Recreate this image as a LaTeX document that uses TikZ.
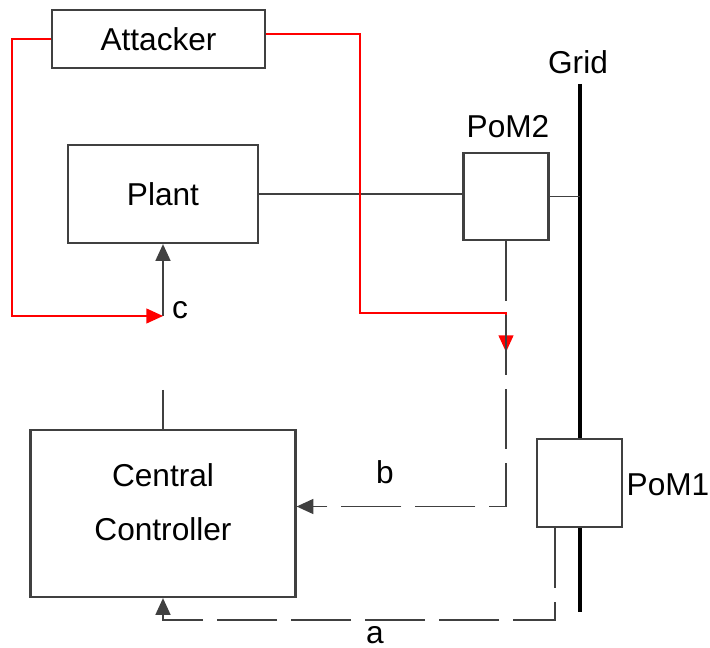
\documentclass[tikz,border=0pt]{standalone}
\usepackage{fontspec}
\setmainfont{Liberation Sans}
\usetikzlibrary{arrows.meta}

\begin{document}
\begin{tikzpicture}[
  x=0.02cm, y=-0.02cm,
  every node/.style={font=\fontsize{18}{31}\selectfont},
  block/.style={draw=black!75, line width=1.3pt, fill=white, rectangle,
                align=center, inner sep=0pt},
  link/.style={draw=black!75, line width=0.9pt},
  signal/.style={link, dash pattern=on 1.2cm off 0.28cm},
  attack/.style={draw=red, line width=0.8pt},
  tip/.style={-{Triangle[length=9.5pt,width=8.5pt]}}
]
  \useasboundingbox (0,0) rectangle (710,648);

  % grid bus
  \coordinate (gtop) at (580,84);
  \coordinate (gbot) at (580,612);
  \draw[black, line width=2.4pt] (gtop) -- (gbot);
  \node (grid) at (578,62) {Grid};

  \node[block, minimum width=4.26cm, minimum height=1.16cm] (attacker) at (158.5,39)  {Attacker};
  \node[block, minimum width=3.8cm,  minimum height=1.96cm] (plant)    at (163,194)   {Plant};
  \node[block, minimum width=5.3cm,  minimum height=3.34cm] (ctrl)     at (163,513.5) {};
  \node[align=center] (ctrltext) at (163,502) {Central\\Controller};
  \node[block, minimum width=1.7cm,  minimum height=1.74cm] (pom2)     at (506,196.5) {};
  \node[block, minimum width=1.7cm,  minimum height=1.76cm] (pom1)     at (579.5,483) {};
  \node (pom2lbl) at (508,127) {PoM2};
  \node (pom1lbl) at (668,485) {PoM1};

  \coordinate (cin)  at (163,316);
  \coordinate (hit)  at (506,352);
  \coordinate (stub) at (163,390);

  \draw[link] (plant.east) -- (plant.east -| pom2.west);
  \draw[link] (pom2.east) -- (pom2.east -| gtop);
  \draw[link, tip] (cin) -- (plant.south);
  \node (c) at (180,310) {c};
  \draw[link] (stub) -- (ctrl.north);

  \draw[attack, tip] (attacker.west) -| (12,316) -- (cin);
  \draw[attack, tip] ([yshift=0.1cm]attacker.east) -| (360,313) -| (hit);

  \draw[signal, tip] (pom2.south) |- ([yshift=0.14cm]ctrl.east);
  \node (b) at (385,472) {b};
  \draw[signal, tip] ([xshift=-0.49cm]pom1.south) -- ++(0,92) -| (ctrl.south);
  \node (a) at (375,635) {a};
\end{tikzpicture}
\end{document}
